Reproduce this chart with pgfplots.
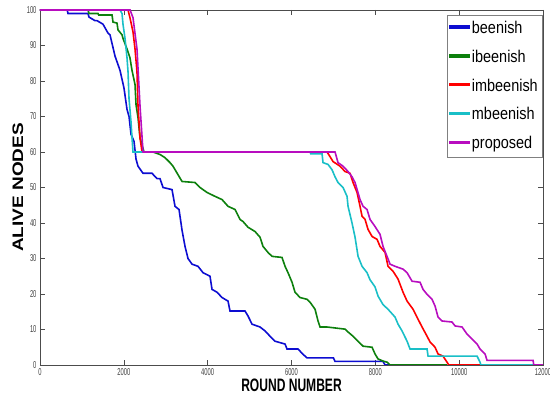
\documentclass[border=0pt]{standalone}
\usepackage{fontspec}
\setmainfont{Liberation Sans}
\usepackage{graphicx}
\usepackage{pgfplots}
\pgfplotsset{compat=1.18}
\definecolor{cblue}{rgb}{0.05,0.05,0.82}
\definecolor{cgreen}{rgb}{0.05,0.5,0.05}
\definecolor{cred}{rgb}{1,0,0}
\definecolor{ccyan}{rgb}{0.1,0.75,0.78}
\definecolor{cmag}{rgb}{0.72,0.05,0.75}
\newcommand\lgs[1]{\scalebox{0.85}[1]{#1}}
\begin{document}
\begin{tikzpicture}
\begin{axis}[
  name=ax,
  width=503pt, height=355pt, scale only axis,
  xmin=0, xmax=12000, ymin=0, ymax=100,
  xtick={0,2000,...,12000}, ytick={0,10,...,100},
  scaled ticks=false,
  /pgf/number format/assume math mode=true,
  /pgf/number format/1000 sep={},
  xticklabel={\scalebox{0.58}[1]{\pgfmathprintnumber{\tick}}},
  yticklabel={\scalebox{0.58}[1]{\pgfmathprintnumber{\tick}}},
  tick label style={font=\fontsize{10}{12}\selectfont, text=black!75},
  major tick length=5pt,
  tick style={black!70, thin},
  axis line style={black!70, thin},
  xlabel={\scalebox{0.67}[1]{\bfseries ROUND NUMBER}},
  xlabel style={font=\fontsize{18}{18}\selectfont, at={(axis description cs:0.5,-0.056)}, anchor=center},
  ylabel={\scalebox{1}[0.8]{\bfseries ALIVE NODES}},
  ylabel style={font=\fontsize{19}{19}\selectfont, at={(axis description cs:-0.044,0.5)}, anchor=center},
  legend style={at={(axis description cs:0.998,0.985)}, anchor=north east,
    draw=black!50, font=\fontsize{17}{17}\selectfont,
    nodes={text height=13pt, text depth=3pt, inner sep=2pt},
    row sep=8.8pt, inner xsep=2pt, inner ysep=3pt},
  legend cell align=left,
  legend image code/.code={\fill[#1] (0pt,0.6pt) rectangle (19pt,2.4pt);},
  every axis plot/.append style={line width=1.6pt},
]
% beenish
\addplot[cblue] coordinates {
(0,100)(650,100)(668,99)(1145,99)(1169,98)(1312,97)(1360,97)(1503,96)(1622,93.5)(1670,93)(1790,87)(1909,83)(2004,78)(2076,72)(2124,70)(2171,65)(2243,63)(2291,58)(2338,56)(2458,54)(2672,54)(2792,52.5)(2863,52.5)(2935,50)(3150,49.4)(3221,44.7)(3317,43.8)(3388,38)(3460,33.4)(3531,30)(3627,28.4)(3770,27.8)(3889,26)(4056,25)(4104,21.3)(4223,20.5)(4343,19)(4486,18)(4533,15.2)(4891,15.2)(4963,13.8)(5058,11.5)(5249,10.7)(5369,9.6)(5488,8.1)(5607,6.7)(5846,5.9)(5893,4.5)(6156,4.5)(6275,3)(6371,2)(7000,2)(7039,1)(8184,1)(8232,0)(8350,0)
};
\addlegendentry{\lgs{beenish}}
% ibeenish
\addplot[cgreen] coordinates {
(0,100)(1145,100)(1169,99)(1384,99)(1400,98.6)(1718,98.6)(1742,96.6)(1837,96.3)(1861,94.4)(1957,93)(1980,92)(2076,89)(2147,86.5)(2195,83)(2267,79)(2291,73.3)(2338,69.7)(2386,64)(2458,61)(2480,60)(2696,60)(2863,59.3)(2983,58.4)(3102,57)(3173,56)(3388,51.7)(3698,51.4)(3818,50)(3985,48.6)(4176,47.5)(4343,46.6)(4486,44.7)(4653,43.8)(4772,41)(4844,40.4)(4963,38.8)(5130,37.6)(5249,36)(5321,33.4)(5440,31.7)(5536,30.6)(5774,30.3)(5846,27.8)(5917,26)(6013,23.3)(6084,20.5)(6204,19)(6371,18.5)(6442,17.7)(6562,15.7)(6633,12.4)(6681,10.7)(6848,10.7)(7277,10.1)(7349,9.3)(7468,8.1)(7588,6.7)(7707,5.3)(7922,5)(7993,3.1)(8065,1.7)(8184,1.1)(8279,0.8)(8351,0)(9711,0)
};
\addlegendentry{\lgs{ibeenish}}
% imbeenish
\addplot[cred] coordinates {
(0,100)(2100,100)(2147,97.8)(2219,93.8)(2267,89)(2314,82.6)(2338,73)(2386,64)(2434,60)(6848,60)(6919,58.7)(6991,57.3)(7158,56)(7277,54.5)(7397,54)(7468,51.4)(7564,48.6)(7635,44.7)(7683,41.9)(7755,41)(7826,38.2)(7922,36.2)(8041,35.4)(8112,33.4)(8232,31.7)(8303,27.8)(8423,26.4)(8542,24.2)(8661,20.5)(8757,18)(8900,15.7)(9019,12.9)(9115,10.7)(9234,8.1)(9305,6.5)(9425,5)(9496,3.1)(9615,2.5)(9711,0.8)(9750,0)(10500,0)
};
\addlegendentry{\lgs{imbeenish}}
% mbeenish
\addplot[ccyan] coordinates {
(0,100)(1909,100)(1957,99)(1980,96)(2028,92)(2076,86.5)(2100,82.6)(2124,75)(2171,68.5)(2195,64)(2219,60)(6442,60)(6460,59.5)(6729,59.5)(6752,57)(6872,56.5)(6967,55)(7039,53)(7110,51.4)(7230,50)(7325,47.5)(7349,44.7)(7444,40)(7516,36)(7588,30.6)(7683,27.8)(7802,26)(7874,24)(7993,22)(8065,19.4)(8184,17)(8303,15.7)(8470,13.5)(8542,11.5)(8637,9.6)(8757,6.7)(8828,4.5)(9234,4.5)(9258,2.5)(10427,2.5)(10498,0.8)(10520,0)(11800,0)
};
\addlegendentry{\lgs{mbeenish}}
% proposed
\addplot[cmag] coordinates {
(0,100)(2150,100)(2219,97.8)(2314,89)(2386,73)(2458,60)(7039,60)(7110,57)(7230,56)(7349,54.5)(7444,53)(7516,51.4)(7635,46.6)(7707,44.7)(7802,43.8)(7874,41)(7993,39)(8112,36.8)(8184,33.4)(8279,30.6)(8351,28.4)(8470,27.8)(8661,27)(8757,26)(8876,23.6)(9067,23.3)(9138,21.3)(9234,19.9)(9353,18.5)(9425,16.6)(9496,13.5)(9592,12.4)(9830,12.1)(9902,11)(10069,10.7)(10188,8.7)(10307,7.3)(10427,5.9)(10498,4.5)(10618,3.1)(10665,1.3)(11763,1.3)(11780,0)(12000,0)
};
\addlegendentry{\lgs{proposed}}
\end{axis}
\pgfresetboundingbox
\path ([xshift=-40pt,yshift=-33pt]ax.south west) rectangle ([xshift=7pt,yshift=10pt]ax.north east);
\end{tikzpicture}
\end{document}
